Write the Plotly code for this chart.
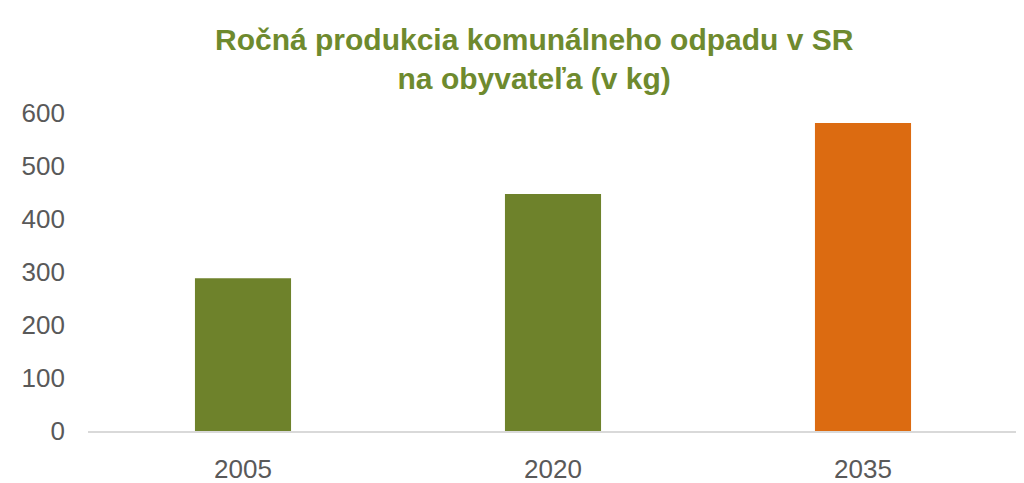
import plotly.graph_objects as go

# rocna produkcia komunalneho odpadu na obyvatela (kg)
years = ["2005", "2020", "2035"]
values = [288, 447, 581]
bar_colours = ["#6e822b", "#6e822b", "#dc6b11"]

y_ticks = [0, 100, 200, 300, 400, 500, 600]

font_name = "Liberation Sans, Arial, sans-serif"

fig = go.Figure(
    data=[go.Bar(
        x=years,
        y=values,
        marker_color=bar_colours,
        marker_line_width=0,
        width=0.31)
    ]
)

# page body has an 8px margin, so the figure is a bit smaller than the window
fig.update_layout(
    width=1016,
    height=475,
    margin=dict(l=80, r=6, t=105, b=52),
    paper_bgcolor="white",
    plot_bgcolor="white",
    showlegend=False,
    font=dict(family=font_name, size=26, color="#595959"),
)

# title as annotation so both lines stay inside the page
fig.add_annotation(
    text="<b>Ročná produkcia komunálneho odpadu v SR<br>na obyvateľa (v kg)</b>",
    xref="paper", yref="paper",
    x=0.48, y=1.29,
    xanchor="center", yanchor="top",
    showarrow=False,
    font=dict(family=font_name, size=30, color="#6e8a2e"),
)

fig.update_xaxes(
    showline=True,
    linecolor="#d9d9d9",
    linewidth=2,
    ticks="",
    showgrid=False,
    ticklabelstandoff=14,
    automargin=False,
)
fig.update_yaxes(
    range=[0, 600],
    tickvals=y_ticks,
    showgrid=False,
    zeroline=False,
    showline=False,
    ticks="",
    ticklabelstandoff=22,
    automargin=False,
)

fig.write_html("out.html")
